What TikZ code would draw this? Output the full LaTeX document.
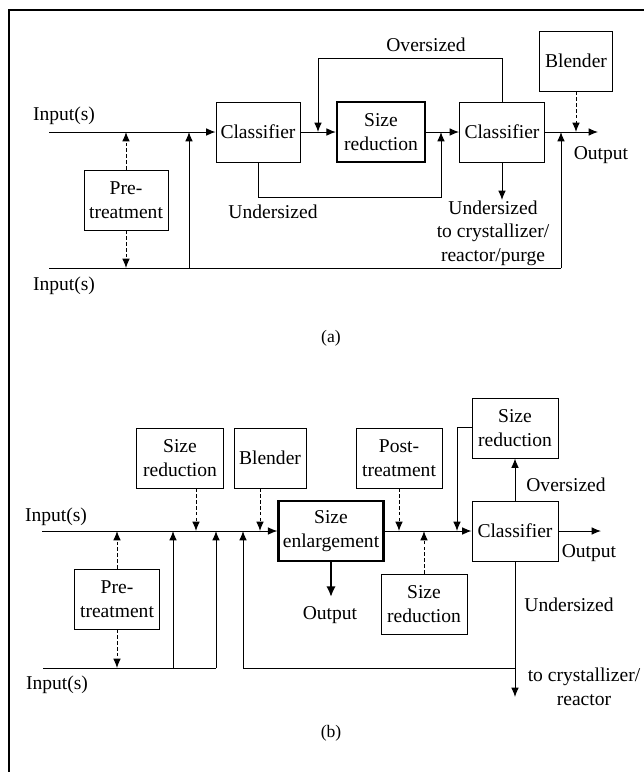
\documentclass[tikz,border=0pt]{standalone}
\usepackage{fontspec}
\setmainfont{Liberation Serif}
\usetikzlibrary{arrows.meta}

\tikzset{
  blk/.style={draw, line width=0.8pt, align=center, inner sep=2pt, minimum height=1.8cm},
  blkthick/.style={blk, line width=2pt},
  flow/.style={line width=0.8pt, -{Latex[length=8pt,width=6.5pt]}},
  dflow/.style={flow, dash pattern=on 3pt off 2pt},
  lbl/.style={align=center, inner sep=0pt},
}

\begin{document}
\begin{tikzpicture}[x=0.03cm, y=-0.03cm, font=\fontsize{16.7}{20}\selectfont]
\useasboundingbox (0,0) rectangle (644,772);
\draw[line width=1.5pt] (9,772) -- (9,10) -- (644,10);

% (a)
\node[blk, minimum width=2.52cm] (cls1) at (258,132) {Classifier};
\node[blkthick, minimum width=2.64cm] (sr1) at (381,132) {Size\\reduction};
\node[blk, minimum width=2.55cm] (cls2) at (502,132) {Classifier};
\node[blk, minimum width=2.19cm] (bl1) at (576,61) {Blender};
\node[blk, minimum width=2.52cm] (pt1) at (126,200) {Pre-\\treatment};

\coordinate (in1) at (49,132);
\coordinate (in2) at (49,268);
\coordinate (ov) at (318,58);
\coordinate (un) at (441,197);
\coordinate (out1) at (598,132);
\coordinate (byp1) at (189,268);
\coordinate (byp2) at (561,268);
\coordinate (ud1) at (502,200);

\draw[flow] (in1) -- (cls1.west);
\draw[flow] (cls1.east) -- (sr1.west);
\draw[flow] (sr1.east) -- (cls2.west);
\draw[flow] (cls2.east) -- (out1);
\draw[flow] (cls2.north) |- (ov) -- (ov |- in1);
\draw[flow] (cls1.south) |- (un) -- (un |- in1);
\draw[flow] (cls2.south) -- (ud1);
\draw[line width=0.8pt] (in2) -- (byp2);
\draw[flow] (byp1) -- (byp1 |- in1);
\draw[flow] (byp2) -- (byp2 |- in1);
\draw[dflow] (pt1.north) -- (pt1.north |- in1);
\draw[dflow] (pt1.south) -- (pt1.south |- in2);
\draw[dflow] (bl1.south) -- (bl1.south |- in1);

\node[lbl] (lin1) at (64,116) {Input(s)};
\node[lbl] (lin2) at (64,286) {Input(s)};
\node[lbl] (lov) at (426,45) {Oversized};
\node[lbl] (lun) at (273,212) {Undersized};
\node[lbl] (lund) at (493,233) {Undersized\\to crystallizer/\\reactor/purge};
\node[lbl] (lout1) at (601,155) {Output};
\node[lbl] (capa) at (331,338) {\fontsize{15}{18}\selectfont (a)};

% (b)
\node[blk, minimum width=2.61cm] (sr2) at (180,458) {Size\\reduction};
\node[blk, minimum width=2.16cm] (bl2) at (270,458) {Blender};
\node[blkthick, minimum width=3.15cm] (se) at (331,531) {Size\\enlargement};
\node[blk, minimum width=2.58cm] (post) at (399,458) {Post-\\treatment};
\node[blk, minimum width=2.58cm] (sr3) at (515,428) {Size\\reduction};
\node[blk, minimum width=2.58cm] (cls3) at (515,531) {Classifier};
\node[blk, minimum width=2.58cm] (sr4) at (424,604) {Size\\reduction};
\node[blk, minimum width=2.55cm] (pt2) at (117,599) {Pre-\\treatment};

\coordinate (in3) at (42,531);
\coordinate (in4) at (43,668);
\coordinate (j1) at (173,668);
\coordinate (j2) at (216,668);
\coordinate (rc) at (243,668);
\coordinate (ud2) at (515,697);
\coordinate (out2) at (601,531);
\coordinate (out3) at (331,597);
\coordinate (lp) at (457,427);
\coordinate (d1) at (196,531);
\coordinate (d2) at (260,531);

\draw[flow] (in3) -- (se.west);
\draw[flow] (se.east) -- (cls3.west);
\draw[flow] (cls3.east) -- (out2);
\draw[flow] (cls3.north) -- (sr3.south);
\draw[flow] (sr3.west |- lp) -| (lp |- in3);
\draw[line width=2pt, -{Latex[length=9pt,width=8pt]}] (se.south) -- (out3);
\draw[flow] (cls3.south) -- (ud2);
\draw[line width=0.8pt] (in4) -- (j2);
\draw[flow] (j1) -- (j1 |- in3);
\draw[flow] (j2) -- (j2 |- in3);
\draw[flow] (ud2 |- rc) -- (rc) -- (rc |- in3);
\draw[dflow] (pt2.north) -- (pt2.north |- in3);
\draw[dflow] (pt2.south) -- (pt2.south |- in4);
\draw[dflow] (d1 |- sr2.south) -- (d1);
\draw[dflow] (d2 |- bl2.south) -- (d2);
\draw[dflow] (post.south) -- (post.south |- in3);
\draw[dflow] (sr4.north) -- (sr4.north |- in3);

\node[lbl] (lin3) at (56,517) {Input(s)};
\node[lbl] (lin4) at (57,685) {Input(s)};
\node[lbl] (lov2) at (566,485) {Oversized};
\node[lbl] (lout2) at (589,553) {Output};
\node[lbl] (lun2) at (569,605) {Undersized};
\node[lbl] (lcr) at (584,687) {to crystallizer/\\reactor};
\node[lbl] (lout3) at (330,615) {Output};
\node[lbl] (capb) at (331,733) {\fontsize{15}{18}\selectfont (b)};
\end{tikzpicture}
\end{document}
